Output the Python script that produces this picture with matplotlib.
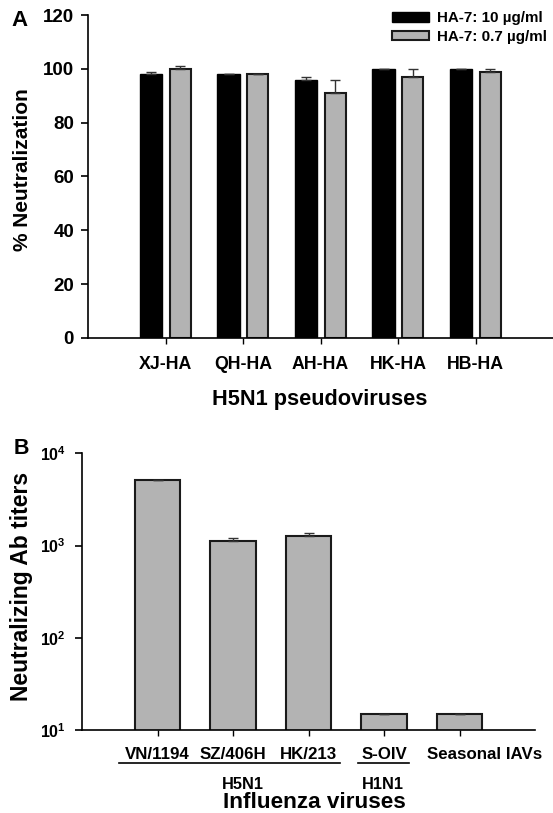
import matplotlib
matplotlib.use("Agg")
import matplotlib.pyplot as plt
import matplotlib.transforms as mtransforms
from matplotlib.ticker import FixedLocator, NullLocator
import numpy as np

plt.rcParams['font.family'] = ['Liberation Sans', 'DejaVu Sans']
plt.rcParams['font.weight'] = 'bold'
plt.rcParams['mathtext.fontset'] = 'custom'
plt.rcParams['mathtext.rm'] = 'Liberation Sans:bold'
plt.rcParams['mathtext.bf'] = 'Liberation Sans:bold'
plt.rcParams['mathtext.it'] = 'Liberation Sans:bold'

# ---------------- Data ----------------
# Panel A
pseudoviruses = ["XJ-HA", "QH-HA", "AH-HA", "HK-HA", "HB-HA"]
series_names = ["HA-7: 10 µg/ml", "HA-7: 0.7 µg/ml"]
neut_10 = [98, 98, 96, 100, 100]
neut_10_err = [1, 0, 1, 0, 0]
neut_07 = [100, 98, 91, 97, 99]
neut_07_err = [1, 0, 5, 3, 1]
yticks_a = [0, 20, 40, 60, 80, 100, 120]

# Panel B
viruses = ["VN/1194", "SZ/406H", "HK/213", "S-OIV", "Seasonal IAVs"]
titers = [5120, 1130, 1280, 15, 15]
titers_err = [0, 80, 90, 0, 0]
yticks_b = [10, 100, 1000, 10000]
yticklabels_b = [r"$\mathbf{10^{1}}$", r"$\mathbf{10^{2}}$", r"$\mathbf{10^{3}}$", r"$\mathbf{10^{4}}$"]

W, H = 553, 813
DPI = 100
fig = plt.figure(figsize=(W / DPI, H / DPI), dpi=DPI)

def fx(px):
    return px / W

def fy(py):
    return 1 - py / H

BLACK = "#000000"
GRAY = "#b3b3b3"
EDGE = "#1a1a1a"

# ---------------- Panel A ----------------
axA = fig.add_axes([fx(88), fy(338), fx(553) - fx(88), fy(15) - fy(338)])
x = np.arange(1, len(pseudoviruses) + 1)
bw = 0.29
axA.bar(x - 0.185, neut_10, bw, color=BLACK, edgecolor=BLACK, linewidth=1.0,
        label=series_names[0], zorder=2)
axA.bar(x + 0.19, neut_07, bw * 0.95, color=GRAY, edgecolor=EDGE, linewidth=1.5,
        label=series_names[1], zorder=2)
axA.errorbar(x - 0.185, neut_10, yerr=[np.zeros(len(x)), neut_10_err], fmt='none',
             ecolor="#333333", elinewidth=1.0, capsize=3.6, capthick=1.0, zorder=3)
axA.errorbar(x + 0.19, neut_07, yerr=[np.zeros(len(x)), neut_07_err], fmt='none',
             ecolor="#333333", elinewidth=1.0, capsize=3.6, capthick=1.0, zorder=3)
axA.set_xlim(0, 6)
axA.set_ylim(0, 120)
axA.set_yticks(yticks_a)
axA.set_yticklabels([str(v) for v in yticks_a], fontsize=13.5, fontweight='bold')
axA.set_xticks(x)
axA.set_xticklabels(pseudoviruses, fontsize=12.8, fontweight='bold')
for s in ["top", "right"]:
    axA.spines[s].set_visible(False)
for s in ["left", "bottom"]:
    axA.spines[s].set_linewidth(1.2)
axA.tick_params(axis='y', direction='out', length=5, width=1.2, pad=5)
axA.tick_params(axis='x', direction='out', length=4, width=1.0, pad=9)

leg = axA.legend(loc='upper right', bbox_to_anchor=(fx(547), fy(11)),
                 bbox_transform=fig.transFigure, frameon=False,
                 prop={'size': 10.9, 'weight': 'bold'},
                 handlelength=2.45, handleheight=0.62, handletextpad=0.5,
                 labelspacing=0.32, borderpad=0, borderaxespad=0)

fig.text(fx(23), fy(170), "% Neutralization", rotation=90, ha='center', va='center',
         fontsize=15, fontweight='bold')
fig.text(fx(320), fy(399), "H5N1 pseudoviruses", ha='center', va='center',
         fontsize=15.7, fontweight='bold')
fig.text(fx(20), fy(20), "A", ha='center', va='center', fontsize=16, fontweight='bold')

# ---------------- Panel B ----------------
axB = fig.add_axes([fx(82), fy(730), fx(535) - fx(82), fy(453.3) - fy(730)])
xb = np.arange(1, len(viruses) + 1)
axB.bar(xb, titers, 0.6, color=GRAY, edgecolor=EDGE, linewidth=1.5, zorder=2, bottom=0)
axB.errorbar(xb, titers, yerr=[np.zeros(len(xb)), titers_err], fmt='none',
             ecolor="#333333", elinewidth=1.0, capsize=3.6, capthick=1.0, zorder=3)
axB.set_yscale('log')
axB.set_ylim(10, 10000)
axB.set_xlim(0, 6)
axB.yaxis.set_major_locator(FixedLocator(yticks_b))
axB.yaxis.set_minor_locator(NullLocator())
axB.set_yticklabels(yticklabels_b, fontsize=11.5)
axB.set_xticks(xb)
axB.set_xticklabels(viruses, fontsize=12.2, fontweight='bold')
for s in ["top", "right"]:
    axB.spines[s].set_visible(False)
for s in ["left", "bottom"]:
    axB.spines[s].set_linewidth(1.2)
axB.tick_params(axis='y', direction='out', length=5, width=1.2, pad=6.5)
axB.tick_params(axis='x', direction='out', length=4, width=1.0, pad=8)

# shift "Seasonal IAVs" label right
lbl = axB.get_xticklabels()[-1]
lbl.set_transform(lbl.get_transform() + mtransforms.ScaledTranslation(25 / DPI, 0, fig.dpi_scale_trans))

# group underlines and subgroup labels
fig.add_artist(plt.Line2D([fx(119), fx(340)], [fy(763), fy(763)], color='black', lw=1.2))
fig.add_artist(plt.Line2D([fx(358), fx(409)], [fy(763), fy(763)], color='black', lw=1.2))
fig.text(fx(243), fy(784), "H5N1", ha='center', va='center', fontsize=11.8, fontweight='bold')
fig.text(fx(383), fy(784), "H1N1", ha='center', va='center', fontsize=11.8, fontweight='bold')
fig.text(fx(314), fy(802), "Influenza viruses", ha='center', va='center',
         fontsize=16.2, fontweight='bold')
fig.text(fx(22), fy(586), "Neutralizing Ab titers", rotation=90, ha='center', va='center',
         fontsize=16.5, fontweight='bold')
fig.text(fx(21), fy(448), "B", ha='center', va='center', fontsize=15.5, fontweight='bold')

fig.savefig("out.png", dpi=DPI)
